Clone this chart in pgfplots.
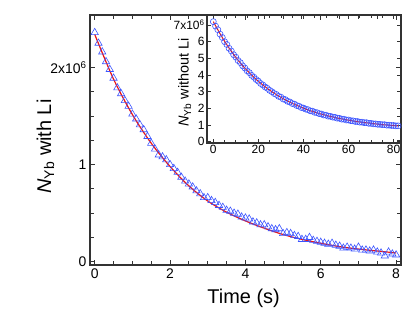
\documentclass[border=0pt]{standalone}
\usepackage{pgfplots}
\pgfplotsset{compat=1.18}
\usepackage{fontspec}
\setmainfont{Liberation Sans}

\definecolor{triblue}{RGB}{60,85,255}
\definecolor{fitred}{RGB}{235,20,20}

\begin{document}
\begin{tikzpicture}
\useasboundingbox (-90bp,-56bp) rectangle (325bp,265bp);

% main panel: with Li
\begin{axis}[
    at={(0bp,0bp)}, anchor=south west,
    scale only axis,
    width=311bp, height=250bp,
    xmin=-0.125, xmax=8.13,
    ymin=-0.034, ymax=2.54,
    xtick={0,2,4,6,8},
    minor x tick num=3,
    ytick={0,1,2},
    yticklabels={0,1,{2x10\textsuperscript{6}}},
    minor y tick num=3,
    tick align=inside,
    major tick length=5bp, minor tick length=4bp,
    tick style={line width=0.9pt, black!80},
    axis line style={line width=1.1pt, black!80},
    /pgf/number format/assume math mode=true,
    tick label style={font=\fontsize{14}{16}\selectfont},
    xlabel={Time (s)},
    ylabel={\textit{N}\textsubscript{Yb} with Li},
    label style={font=\fontsize{20}{22}\selectfont},
    xlabel style={at={(axis description cs:0.494,-0.132)}, anchor=center},
    ylabel style={at={(axis description cs:-0.143,0.474)}, anchor=center},
    clip=false,
]
\addplot[only marks, mark=triangle, mark size=4.2bp, color=triblue, mark options={line width=0.6pt}] coordinates {
(0.0,2.36) (0.1,2.25) (0.2,2.16) (0.3,2.06) (0.4,1.98) (0.5,1.89) (0.6,1.79) (0.7,1.73)
(0.8,1.66) (0.9,1.60) (1.0,1.52) (1.1,1.47) (1.2,1.41) (1.3,1.36) (1.4,1.29) (1.5,1.22)
(1.6,1.16) (1.7,1.10) (1.8,1.08) (1.9,1.05) (2.0,1.00) (2.1,0.96) (2.2,0.92) (2.3,0.87)
(2.4,0.83) (2.5,0.80) (2.6,0.77) (2.7,0.73) (2.8,0.70) (2.9,0.66) (3.0,0.66) (3.1,0.63)
(3.2,0.61) (3.3,0.58) (3.4,0.56) (3.5,0.53) (3.6,0.52) (3.7,0.50) (3.8,0.49) (3.9,0.46)
(4.0,0.45) (4.1,0.44) (4.2,0.41) (4.3,0.40) (4.4,0.38) (4.5,0.38) (4.6,0.36) (4.7,0.34)
(4.8,0.33) (4.9,0.34) (5.0,0.29) (5.1,0.30) (5.2,0.29) (5.3,0.27) (5.4,0.26) (5.5,0.23)
(5.6,0.23) (5.7,0.25) (5.8,0.22) (5.9,0.21) (6.0,0.20) (6.1,0.19) (6.2,0.18) (6.3,0.19)
(6.4,0.17) (6.5,0.16) (6.6,0.14) (6.7,0.15) (6.8,0.14) (6.9,0.13) (7.0,0.15) (7.1,0.12)
(7.2,0.12) (7.3,0.11) (7.4,0.12) (7.5,0.10) (7.6,0.09) (7.7,0.06) (7.8,0.10) (7.9,0.08)
(8.0,0.07)
};
\addplot[smooth, color=fitred, line width=1.2pt] coordinates {
(0,2.34) (0.5,1.88) (1,1.515) (1.5,1.22) (2,0.98) (2.5,0.78) (3,0.625) (3.5,0.51)
(4,0.42) (4.5,0.345) (5,0.28) (5.5,0.23) (6,0.19) (6.5,0.155) (7,0.13) (7.5,0.11) (8,0.09)
};
\end{axis}

% inset: without Li
\begin{axis}[
    at={(117bp,122bp)}, anchor=south west,
    scale only axis,
    width=194bp, height=128bp,
    xmin=-2.8, xmax=83.3,
    ymin=-0.08, ymax=7.6,
    xtick={0,20,40,60,80},
    minor x tick num=3,
    ytick={0,1,2,3,4,5,6,7},
    yticklabels={0,1,2,3,4,5,6,{7x10\textsuperscript{6}}},
    tick align=inside,
    major tick length=4bp, minor tick length=3bp,
    tick style={line width=0.8pt, black!80},
    axis line style={line width=1.1pt, black!80},
    /pgf/number format/assume math mode=true,
    tick label style={font=\fontsize{12}{14}\selectfont},
    xticklabel style={yshift=1bp},
    yticklabel style={xshift=1bp},
    ylabel={\textit{N}\textsubscript{Yb} without Li},
    ylabel style={font=\fontsize{14.5}{16}\selectfont, at={(axis description cs:-0.115,0.473)}, anchor=center},
    clip=false,
]
\addplot[only marks, mark=o, mark size=3bp, color=triblue, mark options={line width=0.6pt}] coordinates {
(0,7.20) (1,6.93) (2,6.72) (3,6.45) (4,6.25) (5,6.00) (6,5.83) (7,5.60) (8,5.44) (9,5.22)
(10,5.07) (11,4.87) (12,4.74) (13,4.55) (14,4.42) (15,4.25) (16,4.14) (17,3.98) (18,3.87) (19,3.73)
(20,3.63) (21,3.49) (22,3.40) (23,3.28) (24,3.20) (25,3.08) (26,3.00) (27,2.89) (28,2.83) (29,2.72)
(30,2.67) (31,2.56) (32,2.52) (33,2.42) (34,2.38) (35,2.29) (36,2.25) (37,2.17) (38,2.13) (39,2.05)
(40,2.02) (41,1.95) (42,1.92) (43,1.85) (44,1.83) (45,1.76) (46,1.74) (47,1.68) (48,1.66) (49,1.60)
(50,1.59) (51,1.53) (52,1.52) (53,1.47) (54,1.46) (55,1.41) (56,1.40) (57,1.35) (58,1.35) (59,1.30)
(60,1.30) (61,1.26) (62,1.25) (63,1.21) (64,1.21) (65,1.17) (66,1.17) (67,1.14) (68,1.14) (69,1.10)
(70,1.10) (71,1.07) (72,1.07) (73,1.04) (74,1.04) (75,1.02) (76,1.02) (77,0.99) (78,0.99) (79,0.97)
(80,0.97) (81,0.95) (82,0.95)
};
\addplot[smooth, color=fitred, line width=1pt] coordinates {
(0,7.20) (4,6.24) (8,5.42) (12,4.72) (16,4.13) (20,3.62) (25,3.09) (30,2.66) (35,2.30)
(40,2.01) (45,1.77) (50,1.58) (55,1.42) (60,1.29) (65,1.18) (70,1.10) (75,1.02) (82,0.945)
};
\end{axis}
\end{tikzpicture}
\end{document}
